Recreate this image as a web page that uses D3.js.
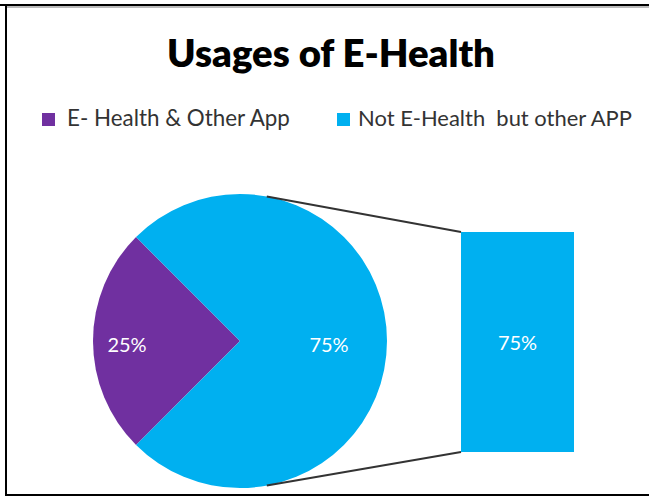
<!DOCTYPE html>
<html>
<head>
<meta charset="utf-8">
<script src="https://cdn.jsdelivr.net/npm/d3@7"></script>
<style>
  html, body { margin: 0; padding: 0; background: #fff; }
  svg { display: block; }
</style>
</head>
<body>
<script>
// Pie-of-bar chart: share of respondents using E-Health apps
const title = "Usages of E-Health";
const categories = ["E- Health & Other App", "Not E-Health  but other APP"];
const values = [25, 75];
const colors = ["#7030A0", "#00B0F0"];
// The bar on the right breaks out the "Not E-Health" share
const barCategories = ["Not E-Health  but other APP"];
const barValues = [75];

const W = 649, H = 496;
const svg = d3.select("body").append("svg").attr("width", W).attr("height", H);
const font = "Lato, 'Open Sans', sans-serif";

svg.append("rect").attr("width", W).attr("height", H).attr("fill", "#fff");

// Fit a text element's font size so it spans a given width
function fit(sel, width) {
  const len = sel.node().getComputedTextLength();
  const fs = parseFloat(sel.attr("font-size"));
  sel.attr("font-size", fs * width / len);
}

// Title
const t = svg.append("text").attr("x", 331).attr("y", 67)
  .attr("text-anchor", "middle").attr("font-family", font).attr("font-weight", 800)
  .attr("font-size", 36).attr("fill", "#000").text(title);
fit(t, 328);

// Legend
const legend = [
  { x: 42, tx: 67, w: 223 },
  { x: 337, tx: 358, w: 274 }
];
categories.forEach((c, i) => {
  svg.append("rect").attr("x", legend[i].x).attr("y", 113).attr("width", 13).attr("height", 13)
    .attr("fill", colors[i]);
  const lt = svg.append("text").attr("x", legend[i].tx).attr("y", 126)
    .attr("font-family", font).attr("font-size", 18).attr("fill", "#333")
    .attr("xml:space", "preserve").style("white-space", "pre").text(c);
  fit(lt, legend[i].w);
});

// Pie
const cx = 240, cy = 341, r = 147;
const purpleSpan = values[0] / d3.sum(values) * 2 * Math.PI;
const pie = d3.pie().sort(null).value(d => d)
  .startAngle(1.5 * Math.PI - purpleSpan / 2)
  .endAngle(1.5 * Math.PI - purpleSpan / 2 + 2 * Math.PI);
const arc = d3.arc().innerRadius(0).outerRadius(r);
const arcs = pie(values);
const g = svg.append("g").attr("transform", `translate(${cx},${cy})`);
g.selectAll("path").data(arcs).join("path")
  .attr("d", arc).attr("fill", (d, i) => colors[i]);

// Pie labels
const pieLabelX = [127 - cx, 329 - cx];
g.selectAll("text.pl").data(arcs).join("text").attr("class", "pl")
  .attr("x", (d, i) => pieLabelX[i])
  .attr("y", 11)
  .attr("text-anchor", "middle").attr("font-family", font).attr("font-size", 20)
  .attr("fill", "#fff").text(d => d.data + "%");

// Bar (single stacked column)
const barX = 461, barW = 113, barTop = 232, barBottom = 452;
const y = d3.scaleLinear().domain([0, d3.sum(barValues)]).range([barBottom, barTop]);
svg.selectAll("rect.bar").data(barValues).join("rect").attr("class", "bar")
  .attr("x", barX).attr("width", barW)
  .attr("y", d => y(d)).attr("height", d => barBottom - y(d))
  .attr("fill", colors[1]);
svg.selectAll("text.bl").data(barValues).join("text").attr("class", "bl")
  .attr("x", barX + barW / 2).attr("y", d => (y(d) + barBottom) / 2 + 8)
  .attr("text-anchor", "middle").attr("font-family", font).attr("font-size", 20)
  .attr("fill", "#fff").text(d => d + "%");

// Connector lines from pie edge to the bar
const a = 10.5 * Math.PI / 180;
const topPt = [cx + r * Math.sin(a), cy - r * Math.cos(a)];
const botPt = [cx + r * Math.sin(Math.PI - a), cy - r * Math.cos(Math.PI - a)];
svg.append("line").attr("x1", topPt[0]).attr("y1", topPt[1]).attr("x2", barX).attr("y2", y(barValues[0]))
  .attr("stroke", "#333").attr("stroke-width", 2);
svg.append("line").attr("x1", botPt[0]).attr("y1", botPt[1]).attr("x2", barX).attr("y2", barBottom)
  .attr("stroke", "#333").attr("stroke-width", 2);

// Frame
svg.append("rect").attr("x", 0).attr("y", 4).attr("width", W).attr("height", 2).attr("fill", "#000");
svg.append("rect").attr("x", 6).attr("y", 6).attr("width", W - 6).attr("height", 2).attr("fill", "#bbb");
svg.append("rect").attr("x", 5).attr("y", 4).attr("width", 2).attr("height", H - 4).attr("fill", "#000");
svg.append("rect").attr("x", 5).attr("y", 494).attr("width", W - 5).attr("height", 2).attr("fill", "#000");
</script>
</body>
</html>
